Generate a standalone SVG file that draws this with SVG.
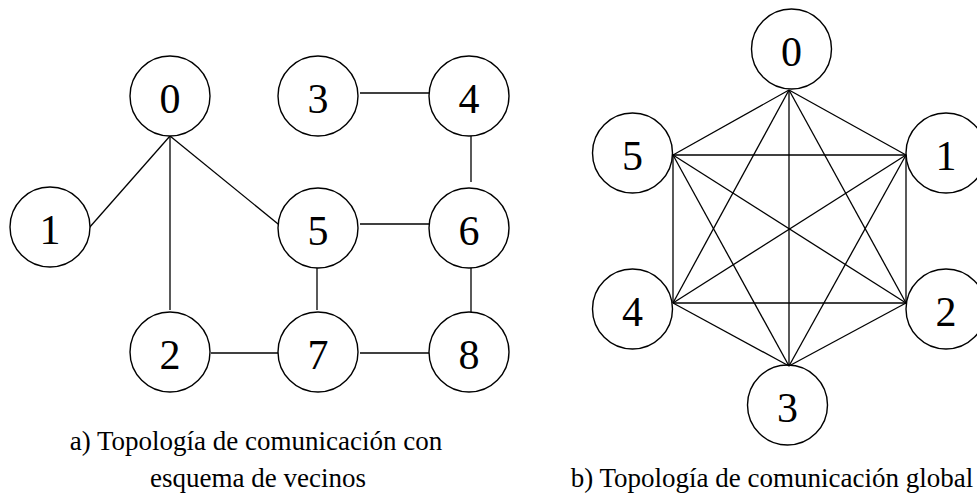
<svg xmlns="http://www.w3.org/2000/svg" width="977" height="494" viewBox="0 0 977 494">
<style>
.n{fill:#fff;stroke:#000;stroke-width:1.4}
.t{font-family:"Liberation Serif","Times New Roman",serif;font-size:42px;text-anchor:middle;fill:#000}
.c{font-family:"Liberation Serif","Times New Roman",serif;font-size:27px;text-anchor:middle;fill:#000}
.e line{stroke:#000;stroke-width:1.3}
</style>
<rect width="977" height="494" fill="#fff"/>
<g id="edges-a" class="e">
<line x1="170" y1="136" x2="89" y2="228"/>
<line x1="170" y1="136" x2="170" y2="310"/>
<line x1="170" y1="136" x2="283" y2="228"/>
<line x1="360" y1="93" x2="429" y2="93"/>
<line x1="471" y1="136" x2="471" y2="182"/>
<line x1="360" y1="224" x2="429" y2="224"/>
<line x1="317" y1="268" x2="317" y2="310"/>
<line x1="471" y1="268" x2="471" y2="313"/>
<line x1="211" y1="353" x2="283" y2="353"/>
<line x1="360" y1="353" x2="429" y2="353"/>
</g>
<g id="a0"><circle class="n" cx="170" cy="96" r="40"/><text class="t" x="170" y="113">0</text></g>
<g id="a1"><circle class="n" cx="50" cy="227" r="40"/><text class="t" x="50" y="244">1</text></g>
<g id="a2"><circle class="n" cx="170" cy="352" r="40"/><text class="t" x="170" y="369">2</text></g>
<g id="a3"><circle class="n" cx="318" cy="96" r="40"/><text class="t" x="318" y="113">3</text></g>
<g id="a4"><circle class="n" cx="469" cy="96" r="40"/><text class="t" x="469" y="113">4</text></g>
<g id="a5"><circle class="n" cx="318" cy="228" r="40"/><text class="t" x="318" y="245">5</text></g>
<g id="a6"><circle class="n" cx="469" cy="228" r="40"/><text class="t" x="469" y="245">6</text></g>
<g id="a7"><circle class="n" cx="318" cy="352" r="40"/><text class="t" x="318" y="369">7</text></g>
<g id="a8"><circle class="n" cx="469" cy="352" r="40"/><text class="t" x="469" y="369">8</text></g>
<g id="b0"><circle class="n" cx="791.5" cy="49" r="40"/><text class="t" x="791.5" y="66">0</text></g>
<g id="b1"><circle class="n" cx="946" cy="153" r="40"/><text class="t" x="946" y="170">1</text></g>
<g id="b2"><circle class="n" cx="946" cy="309" r="40"/><text class="t" x="946" y="326">2</text></g>
<g id="b3"><circle class="n" cx="787.5" cy="405" r="40"/><text class="t" x="787.5" y="422">3</text></g>
<g id="b4"><circle class="n" cx="632.5" cy="309" r="40"/><text class="t" x="632.5" y="326">4</text></g>
<g id="b5"><circle class="n" cx="632.5" cy="153" r="40"/><text class="t" x="632.5" y="170">5</text></g>
<g id="edges-b" class="e">
<line x1="789" y1="90" x2="906" y2="155"/>
<line x1="789" y1="90" x2="906" y2="303"/>
<line x1="789" y1="90" x2="789" y2="366"/>
<line x1="789" y1="90" x2="673" y2="303"/>
<line x1="789" y1="90" x2="673" y2="155"/>
<line x1="906" y1="155" x2="906" y2="303"/>
<line x1="906" y1="155" x2="789" y2="366"/>
<line x1="906" y1="155" x2="673" y2="303"/>
<line x1="906" y1="155" x2="673" y2="155"/>
<line x1="906" y1="303" x2="789" y2="366"/>
<line x1="906" y1="303" x2="673" y2="303"/>
<line x1="906" y1="303" x2="673" y2="155"/>
<line x1="789" y1="366" x2="673" y2="303"/>
<line x1="789" y1="366" x2="673" y2="155"/>
<line x1="673" y1="303" x2="673" y2="155"/>
</g>
<text class="c" x="256" y="450">a) Topología de comunicación con</text>
<text class="c" x="258" y="487">esquema de vecinos</text>
<text class="c" x="772" y="487">b) Topología de comunicación global</text>
</svg>
